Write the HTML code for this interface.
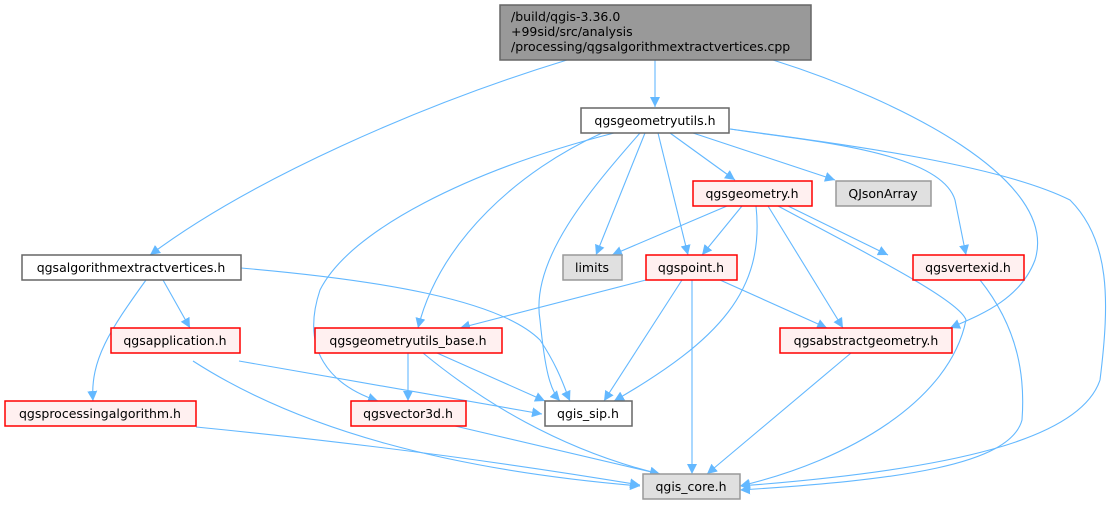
<!DOCTYPE html>
<html><head><meta charset="utf-8"><style>
body{margin:0;background:#fff;}
svg text{font-family:"DejaVu Sans","Liberation Sans",sans-serif;font-size:12.5px;fill:#000;}
</style></head><body>
<svg width="1118" height="505" viewBox="0 0 1118 505" xmlns="http://www.w3.org/2000/svg">
<defs><marker id="a" viewBox="0 0 10 10" refX="10" refY="5" markerWidth="10" markerHeight="10" markerUnits="userSpaceOnUse" orient="auto"><path d="M0,0 L10,5 L0,10 z" fill="#63b8ff"/></marker></defs>
<g fill="none" stroke="#63b8ff" stroke-width="1.1" marker-end="url(#a)">
<!-- root edges -->
<path d="M655,60 L655,107"/>
<path d="M567,60 C420,105 250,180 150,255"/>
<path d="M773,60 C900,100 1060,180 1035,260 C1020,300 980,315 950,328"/>
<!-- geometryutils edges -->
<path d="M670,133 L735,180"/>
<path d="M693,133 L835,180"/>
<path d="M730,129 C800,140 940,150 955,200 L966,255"/>
<path d="M730,129 C850,145 1000,165 1070,200 C1110,240 1110,300 1100,380 C1080,440 950,470 740,486"/>
<path d="M645,133 L596,255"/>
<path d="M658,133 L688,255"/>
<path d="M602,133 C520,170 440,240 418,328"/>
<path d="M614,133 C470,170 350,230 320,290 C300,350 330,385 378,401"/>
<path d="M640,133 C590,190 530,260 540,320 C545,370 550,390 560,401"/>
<!-- qgsgeometry -->
<path d="M727,206 L612,255"/>
<path d="M742,206 L702,255"/>
<path d="M788,206 L888,255"/>
<path d="M768,206 L843,328"/>
<path d="M756,206 C765,290 720,340 614,401"/>
<path d="M778,206 C860,250 960,300 966,320 C950,400 850,460 740,486"/>
<!-- qgspoint -->
<path d="M646,280 L460,328"/>
<path d="M682,280 L604,401"/>
<path d="M692,280 L692,474"/>
<path d="M720,280 L827,328"/>
<!-- qgsvertexid -->
<path d="M980,280 C1020,330 1025,380 1022,420 C1010,465 900,480 740,490"/>
<!-- abstractgeometry -->
<path d="M851,353 L707,474"/>
<!-- extractvertices -->
<path d="M163,280 L190,328"/>
<path d="M146,280 C110,330 90,360 93,401"/>
<path d="M241,268 C380,280 500,300 540,340 C560,370 565,390 570,401"/>
<!-- qgsapplication -->
<path d="M239,361 L542,414"/>
<path d="M193,361 C300,430 450,470 640,486"/>
<!-- geometryutils_base -->
<path d="M408,353 L408,401"/>
<path d="M437,353 L545,401"/>
<path d="M423,353 C480,400 560,450 660,474"/>
<!-- processingalgorithm, vector3d -->
<path d="M196,427 C400,447 550,470 640,485"/>
<path d="M455,426 L660,474"/>
</g>
<g stroke-width="1.5">
<rect x="500" y="5" width="311" height="55" fill="#999999" stroke="#666"/>
<rect x="581" y="108" width="148" height="25" fill="#fff" stroke="#666"/>
<rect x="693" y="181" width="119" height="25" fill="#fff0f0" stroke="#f00"/>
<rect x="836" y="181" width="95" height="25" fill="#e0e0e0" stroke="#999"/>
<rect x="563" y="255" width="59" height="25" fill="#e0e0e0" stroke="#999"/>
<rect x="646" y="255" width="91" height="25" fill="#fff0f0" stroke="#f00"/>
<rect x="913" y="255" width="111" height="25" fill="#fff0f0" stroke="#f00"/>
<rect x="22" y="255" width="219" height="25" fill="#fff" stroke="#666"/>
<rect x="111" y="328" width="129" height="25" fill="#fff0f0" stroke="#f00"/>
<rect x="315" y="328" width="187" height="25" fill="#fff0f0" stroke="#f00"/>
<rect x="780" y="328" width="172" height="25" fill="#fff0f0" stroke="#f00"/>
<rect x="5" y="401" width="191" height="25" fill="#fff0f0" stroke="#f00"/>
<rect x="351" y="401" width="115" height="25" fill="#fff0f0" stroke="#f00"/>
<rect x="545" y="401" width="87" height="25" fill="#fff" stroke="#666"/>
<rect x="643" y="474" width="97" height="25" fill="#e0e0e0" stroke="#999"/>
</g>
<text x="511" y="21">/build/qgis-3.36.0</text>
<text x="511" y="36">+99sid/src/analysis</text>
<text x="511" y="51">/processing/qgsalgorithmextractvertices.cpp</text>
<g text-anchor="middle">
<text x="655" y="125">qgsgeometryutils.h</text>
<text x="752" y="198">qgsgeometry.h</text>
<text x="883" y="198">QJsonArray</text>
<text x="592" y="272">limits</text>
<text x="691" y="272">qgspoint.h</text>
<text x="968" y="272">qgsvertexid.h</text>
<text x="131" y="272">qgsalgorithmextractvertices.h</text>
<text x="175" y="345">qgsapplication.h</text>
<text x="408" y="345">qgsgeometryutils_base.h</text>
<text x="866" y="345">qgsabstractgeometry.h</text>
<text x="100" y="418">qgsprocessingalgorithm.h</text>
<text x="408" y="418">qgsvector3d.h</text>
<text x="588" y="418">qgis_sip.h</text>
<text x="691" y="491">qgis_core.h</text>
</g>
</svg>
</body></html>
